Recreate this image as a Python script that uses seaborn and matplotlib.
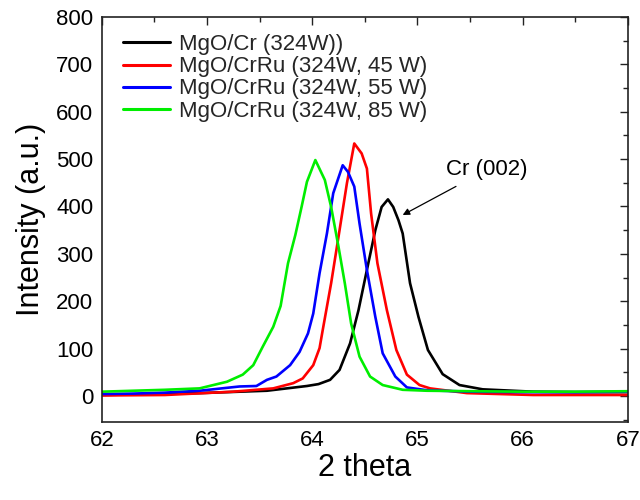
import matplotlib
matplotlib.use("Agg")
import matplotlib.pyplot as plt
from matplotlib.ticker import MultipleLocator
import seaborn as sns
import pandas as pd

# ---- data ----
labels = ["MgO/Cr (324W))", "MgO/CrRu (324W, 45 W)",
          "MgO/CrRu (324W, 55 W)", "MgO/CrRu (324W, 85 W)"]
colors = ["#000000", "#ff0000", "#0000ff", "#00ee00"]

x_cr = [62.0, 62.93, 63.57, 63.76, 63.95, 64.06, 64.17, 64.26, 64.36, 64.44,
        64.52, 64.60, 64.66, 64.72, 64.77, 64.82, 64.86, 64.93, 65.01, 65.10,
        65.24, 65.40, 65.62, 66.1, 66.5, 67.0]
y_cr = [2, 6, 11, 16, 21, 25, 34, 55, 111, 181,
        266, 350, 399, 415, 399, 371, 343, 238, 167, 97,
        46, 23, 14, 9, 8, 8]

x_45 = [62.0, 62.6, 63.25, 63.63, 63.82, 63.91, 64.01, 64.07, 64.10, 64.18,
        64.26, 64.33, 64.40, 64.47, 64.52, 64.56, 64.62, 64.71, 64.80, 64.90,
        65.02, 65.12, 65.47, 66.1, 67.0]
y_45 = [1, 2, 9, 16, 27, 37, 65, 101, 139, 238,
        350, 449, 533, 512, 480, 385, 280, 181, 97, 45,
        23, 16, 6, 2, 2]

x_55 = [62.0, 62.3, 62.6, 62.93, 63.31, 63.47, 63.57, 63.66, 63.79, 63.88,
        63.96, 64.01, 64.07, 64.14, 64.20, 64.29, 64.34, 64.40, 64.45, 64.52,
        64.60, 64.67, 64.79, 64.90, 65.09, 65.5, 66.0, 66.5, 67.0]
y_55 = [4, 5, 7, 11, 20, 21, 34, 41, 65, 93,
        132, 174, 259, 343, 428, 487, 473, 442, 364, 266,
        167, 90, 41, 18, 12, 9, 8, 8, 9]

x_85 = [62.0, 62.3, 62.6, 62.93, 63.06, 63.19, 63.34, 63.44, 63.53, 63.63,
        63.70, 63.77, 63.84, 63.90, 63.95, 64.03, 64.12, 64.18, 64.25, 64.31,
        64.37, 64.45, 64.55, 64.67, 64.86, 65.09, 65.5, 66.0, 66.5, 67.0]
y_85 = [9, 11, 13, 16, 23, 30, 45, 65, 104, 146,
        190, 280, 340, 400, 452, 498, 456, 399, 315, 238,
        153, 83, 41, 23, 13, 11, 10, 9, 9, 10]

xs = [x_cr, x_45, x_55, x_85]
ys = [y_cr, y_45, y_55, y_85]

frames = []
for lab, xv, yv in zip(labels, xs, ys):
    frames.append(pd.DataFrame({"two_theta": xv, "intensity": yv, "sample": lab}))
df = pd.concat(frames, ignore_index=True)

# ---- plot ----
sns.set_theme(style="white")
plt.rcParams["font.family"] = ["Liberation Sans", "DejaVu Sans"]

fig = plt.figure(figsize=(6.4, 5.0), dpi=100)
ax = fig.add_axes([0.159, 0.156, 0.822, 0.810])

sns.lineplot(data=df, x="two_theta", y="intensity", hue="sample",
             hue_order=labels, palette=dict(zip(labels, colors)),
             estimator=None, sort=True, linewidth=1.9, ax=ax)

ax.set_xlim(62, 67)
ax.set_ylim(-55, 800)
ax.xaxis.set_major_locator(MultipleLocator(1))
ax.xaxis.set_minor_locator(MultipleLocator(0.5))
ax.yaxis.set_major_locator(MultipleLocator(100))
ax.yaxis.set_minor_locator(MultipleLocator(50))
ax.tick_params(which="both", direction="in", top=True, right=True,
               colors="#222222", width=1.0)
ax.tick_params(which="major", length=6, labelsize=16, labelcolor="black", pad=6)
ax.tick_params(which="minor", length=3.5)
for sp in ax.spines.values():
    sp.set_color("#222222")
    sp.set_linewidth(1.2)

ax.set_xlabel("2 theta", fontsize=22, color="black", labelpad=1)
ax.set_ylabel("Intensity (a.u.)", fontsize=22, color="black", labelpad=7)

ax.annotate("Cr (002)", xy=(64.86, 382), xytext=(65.27, 477),
            fontsize=16, color="black", va="center", ha="left",
            arrowprops=dict(arrowstyle="-|>", color="black", lw=0.9,
                            shrinkA=4, shrinkB=0, mutation_scale=10))

leg = ax.legend(loc="upper left", bbox_to_anchor=(0.02, 0.985), frameon=False,
                fontsize=16, handlelength=2.1, handletextpad=0.4,
                labelspacing=0.05, borderaxespad=0.1)
for line in leg.get_lines():
    line.set_linewidth(2.2)

fig.savefig("out.png", dpi=100)
